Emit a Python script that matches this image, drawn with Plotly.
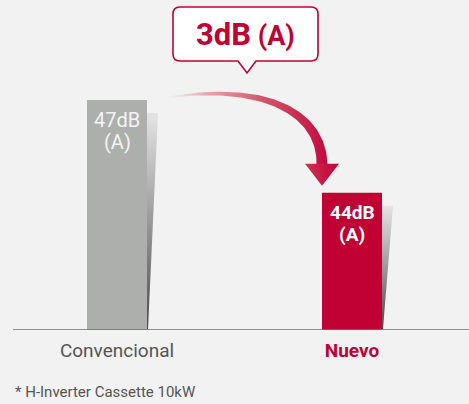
import numpy as np
import plotly.graph_objects as go

# ---- data -------------------------------------------------------------
categories = ["Convencional", "Nuevo"]
noise_db = [47, 44]
unit_label = "(A)"
footnote = "* H-Inverter Cassette 10kW"

# ---- styling ----------------------------------------------------------
BG = "#f2f2f2"
LG_RED = "#c10033"
bar_colors = ["#adafad", LG_RED]
FONT = "Roboto"

W, H = 469, 404
PLOT_H = 330                      # plot area ends at the baseline
X_LO, X_HI = -117 / 235, (469 - 117) / 235
Y_LO, Y_HI = 39.57, 50.23
BAR_W = 60 / 235
xs = list(range(len(categories)))


def to_px(x, y):
    return ((x - X_LO) / (X_HI - X_LO) * W, (Y_HI - y) / (Y_HI - Y_LO) * PLOT_H)


def to_data(px, py):
    return (X_LO + np.asarray(px) / W * (X_HI - X_LO),
            Y_HI - np.asarray(py) / PLOT_H * (Y_HI - Y_LO))


fig = go.Figure()

# bars
fig.add_trace(go.Bar(
    x=xs, y=noise_db, width=BAR_W,
    marker=dict(color=bar_colors, line=dict(width=0)),
    hoverinfo="skip", showlegend=False,
))

# tapered shadow wedge on the right side of each bar
for i, v in zip(xs, noise_db):
    bx, by = to_px(i + BAR_W / 2, v)
    base_y = PLOT_H - 1
    px = [bx, bx + 11, bx + 1, bx, bx]
    py = [by + 13, by + 13, base_y, base_y, by + 13]
    dx, dy = to_data(px, py)
    fig.add_trace(go.Scatter(
        x=dx, y=dy, mode="lines", line=dict(width=0),
        fill="toself",
        fillgradient=dict(type="vertical",
                          colorscale=[[0, "#4a4a4a"], [0.5, "#9a9a9a"], [1, "#e4e4e4"]]),
        hoverinfo="skip", showlegend=False,
    ))

# curved arrow from the top of the first bar to the top of the second
sx, sy = to_px(xs[0] + BAR_W / 2, noise_db[0])
ex, ey = to_px(xs[1] - BAR_W / 2, noise_db[1])
P0 = np.array([sx + 16, sy - 2])
P3 = np.array([ex, ey - 28])
P1 = np.array([P0[0] + 97, P0[1] - 16])
P2 = np.array([P3[0], P3[1] - 55])
t = np.linspace(0, 1, 80)
pts = ((1 - t)[:, None] ** 3 * P0 + 3 * ((1 - t) ** 2 * t)[:, None] * P1
       + 3 * ((1 - t) * t ** 2)[:, None] * P2 + (t ** 3)[:, None] * P3)
der = (3 * ((1 - t) ** 2)[:, None] * (P1 - P0) + 6 * ((1 - t) * t)[:, None] * (P2 - P1)
       + 3 * (t ** 2)[:, None] * (P3 - P2))
nrm = np.stack([-der[:, 1], der[:, 0]], axis=1)
nrm /= np.linalg.norm(nrm, axis=1)[:, None]
half = (0.6 + 10.4 * t ** 0.75) / 2
upper = pts + nrm * half[:, None]
lower = pts - nrm * half[:, None]
poly = np.vstack([upper, lower[::-1], upper[:1]])
ax_, ay_ = to_data(poly[:, 0], poly[:, 1])
fig.add_trace(go.Scatter(
    x=ax_, y=ay_, mode="lines", line=dict(width=0), fill="toself",
    fillgradient=dict(type="horizontal",
                      colorscale=[[0, "rgba(242,215,218,0)"], [0.25, "rgba(232,160,166,0.9)"],
                                  [0.6, "#d2586b"], [1, "#c20a3d"]]),
    hoverinfo="skip", showlegend=False,
))
head_px = [ex - 17, ex + 17, ex, ex - 17]
head_py = [ey - 29, ey - 29, ey - 7, ey - 29]
hx, hy = to_data(head_px, head_py)
fig.add_trace(go.Scatter(
    x=hx, y=hy, mode="lines", line=dict(width=0), fill="toself",
    fillgradient=dict(type="horizontal",
                      colorscale=[[0, "#cc3552"], [1, "#c2003a"]]),
    hoverinfo="skip", showlegend=False,
))

# value labels inside the bars
for i, v in enumerate(noise_db):
    bold = i == len(noise_db) - 1
    for txt, shift in ((f"{v}dB", -20), (unit_label, -42)):
        fig.add_annotation(
            x=xs[i], y=v, yshift=shift, text=f"<b>{txt}</b>" if bold else txt,
            showarrow=False, yanchor="middle", xanchor="center",
            font=dict(family=FONT, size=20 if not bold else 19,
                      color="#ffffff" if bold else "#f4f4f4"),
        )

# callout box with the difference
diff = noise_db[0] - noise_db[1]
L, R, T, B, r = 173, 318, 7, 61, 7
tip_x, tip_y = 247, 73
pb0, pb1 = 238, 256


def pt(px, py):
    x, y = to_data(px, py)
    return f"{float(x):.5f},{float(y):.5f}"


path = (f"M {pt(L + r, T)} L {pt(R - r, T)} Q {pt(R, T)} {pt(R, T + r)} "
        f"L {pt(R, B - r)} Q {pt(R, B)} {pt(R - r, B)} "
        f"L {pt(pb1, B)} L {pt(tip_x, tip_y)} L {pt(pb0, B)} "
        f"L {pt(L + r, B)} Q {pt(L, B)} {pt(L, B - r)} "
        f"L {pt(L, T + r)} Q {pt(L, T)} {pt(L + r, T)} Z")
fig.add_shape(type="path", path=path, xref="x", yref="y",
              fillcolor="#ffffff", line=dict(color=LG_RED, width=1.6), layer="above")
cx, cy = to_data(245.5, 34.5)
fig.add_annotation(
    x=float(cx), y=float(cy), showarrow=False, xanchor="center", yanchor="middle",
    text=f"<b><span style='font-size:31px'>{diff}dB</span> {unit_label}</b>",
    font=dict(family=FONT, size=27, color=LG_RED),
)

# baseline
fig.add_shape(type="line", xref="paper", yref="y", x0=13 / W, x1=1, y0=Y_LO, y1=Y_LO,
              line=dict(color="#6e6e6e", width=1.6))

# footnote
fig.add_annotation(
    xref="paper", yref="paper", x=13 / W, y=-(392 - PLOT_H) / PLOT_H,
    xanchor="left", yanchor="middle", showarrow=False, text=footnote,
    font=dict(family=FONT, size=15, color="#555555"),
)

ticktext = [categories[0], f"<b><span style='color:{LG_RED}'>{categories[1]}</span></b>"]
fig.update_layout(
    width=W, height=H,
    margin=dict(l=0, r=0, t=0, b=H - PLOT_H),
    paper_bgcolor=BG, plot_bgcolor=BG,
    xaxis=dict(range=[X_LO, X_HI], tickvals=xs, ticktext=ticktext, showgrid=False,
               zeroline=False, showline=False, ticks="", ticklabelstandoff=7,
               tickfont=dict(family=FONT, size=19, color="#555555"), fixedrange=True),
    yaxis=dict(range=[Y_LO, Y_HI], visible=False, fixedrange=True),
    showlegend=False,
)

fig.write_html("out.html")
